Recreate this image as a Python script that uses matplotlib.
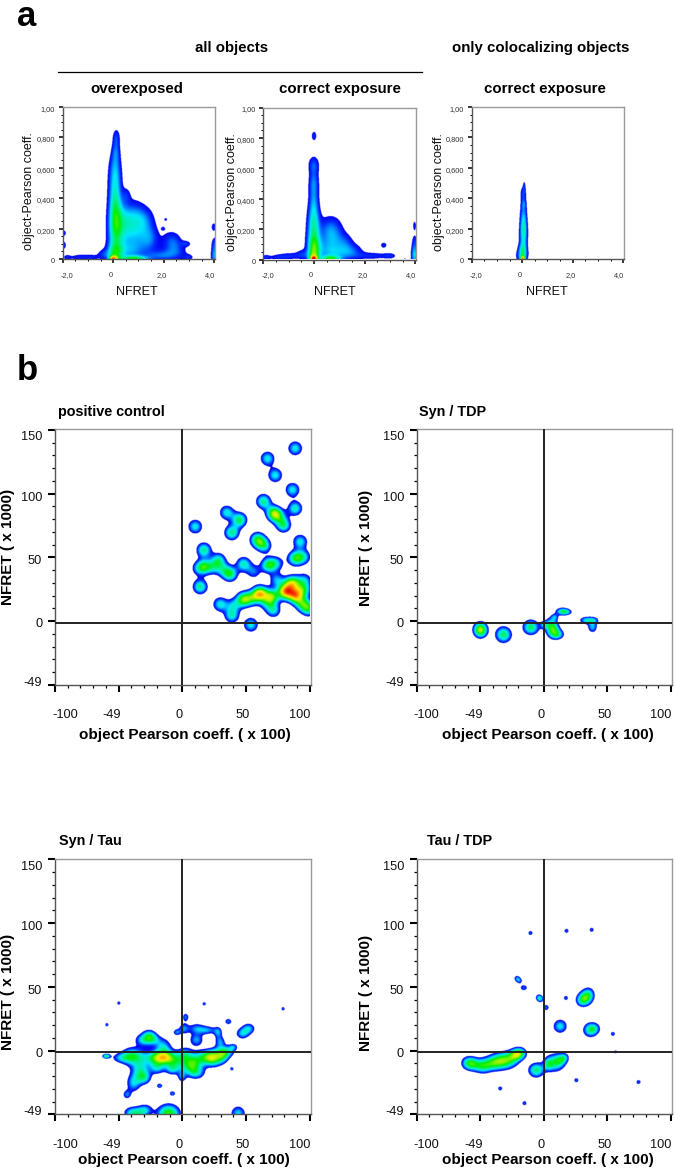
import numpy as np
import matplotlib
matplotlib.use("Agg")
import matplotlib.pyplot as plt
from matplotlib.colors import LinearSegmentedColormap
from matplotlib.transforms import ScaledTranslation
from matplotlib.ticker import MultipleLocator

plt.rcParams['font.family'] = ['Liberation Sans', 'DejaVu Sans']
W, H = 675, 1170

# ---- panel a: density components (NFRET, Pearson, spread x, spread y, weight)
A1_X  = [0.10,0.08,0.05,0.05,0.05,0.05,0.08,0.05,-0.05,0.05,0.40,0.60,0.90,1.25,1.15,0.60,1.45,2.20,2.45,2.85,2.35,2.95,-1.95,-1.95,-1.85,-1.40,-0.90,-0.40,0.80,1.80,3.95,4.0,3.98,2.05,1.95,0.50]
A1_Y  = [0.80,0.71,0.62,0.53,0.43,0.31,0.17,0.03,0.00,0.00,0.27,0.20,0.28,0.26,0.15,0.05,0.13,0.12,0.10,0.10,0.04,0.01,0.17,0.09,0.01,0.01,0.01,0.03,0.00,0.02,0.21,0.10,0.02,0.26,0.20,0.42]
A1_SX = [.09,.10,.14,.15,.15,.15,.18,.18,.08,.10,.22,.28,.22,.22,.30,.40,.20,.20,.18,.12,.35,.12,.05,.05,.10,.20,.20,.15,.30,.35,.07,.09,.08,.05,.05,.10]
A1_SY = [.035,.04,.05,.05,.06,.07,.09,.04,.012,.012,.07,.08,.06,.05,.06,.04,.05,.04,.04,.012,.03,.012,.015,.02,.012,.014,.014,.02,.012,.02,.02,.03,.035,.008,.008,.03]
A1_W  = [.16,.18,.20,.20,.26,.30,.42,.32,.55,.30,.16,.22,.15,.15,.16,.20,.13,.13,.12,.14,.14,.12,.12,.12,.12,.12,.12,.13,.50,.16,.13,.15,.28,.12,.12,.11]

A2_X  = [0.01,0.00,0.00,0.00,0.00,-0.01,0.02,0.00,-0.02,0.65,0.55,0.85,0.55,1.25,1.55,0.90,2.76,2.30,3.00,-1.9,-1.4,-0.9,-0.45,3.98,3.98,3.98,3.6]
A2_Y  = [0.81,0.62,0.51,0.39,0.27,0.13,0.05,0.00,0.00,0.00,0.20,0.17,0.08,0.10,0.05,0.03,0.09,0.02,0.02,0.01,0.01,0.02,0.03,0.22,0.10,0.02,0.00]
A2_SX = [.07,.13,.12,.12,.14,.15,.14,.08,.12,.22,.22,.22,.35,.20,.25,.40,.09,.40,.15,.10,.25,.25,.15,.05,.07,.08,.03]
A2_SY = [.022,.035,.05,.06,.06,.08,.05,.012,.03,.012,.05,.06,.05,.04,.03,.03,.014,.015,.012,.012,.014,.015,.02,.022,.04,.035,.004]
A2_W  = [.14,.18,.20,.20,.24,.40,.30,.75,.28,.48,.15,.15,.20,.14,.14,.16,.13,.14,.12,.12,.12,.12,.13,.12,.15,.30,.10]

A3_X  = [0.06,0.02,0.04,0.03,0.03,0.03,0.00,0.00,-0.03]
A3_Y  = [0.48,0.43,0.36,0.30,0.22,0.15,0.06,0.00,0.02]
A3_SX = [.03,.07,.06,.08,.08,.09,.09,.05,.13]
A3_SY = [.02,.03,.02,.05,.05,.05,.03,.012,.03]
A3_W  = [.12,.17,.14,.18,.22,.30,.30,.85,.25]

# ---- panel b: density components (Pearson x100, NFRET x1000, weight)
PC_X = [88.5,66.8,72.8,86.4,10,63.6,71.4,88.4,79.3,75,34.8,44.8,38.7,58.9,64,92.4,88.4,95,16.8,17,12.5,13.9,28.3,24,37.4,32,48,55.8,67.5,74,29.6,38.7,53.7,48,40,61,70,80.6,88.4,84.5,71.4,99,74,95,93.7,55,66,88,96]
PC_Y = [135,127,114,102.6,73.8,93.5,84.3,88,75,82,84.8,79,69,63.4,59,62,49,50,55.5,42.4,41,26.7,47.6,42,36.6,40,44.5,38.5,43.7,45,13,4,-3,16.8,12,21.5,19,22.8,20,29,8.4,9.7,32,24,13.6,18,14,30,32]
PC_W = [.35,.35,.35,.35,.35,.42,.48,.38,.42,.32,.35,.46,.43,.48,.38,.35,.45,.32,.42,.40,.22,.42,.36,.24,.44,.24,.38,.24,.46,.26,.35,.35,.35,.55,.26,.68,.52,.72,.68,.38,.34,.44,.28,.38,.38,.36,.24,.30,.26]

ST_X  = [-50.3,-50.3,-32.2,-10.7,5.2,7,10.5,-0.5,13.6,17,8,32,38,37.7]
ST_Y  = [-5.5,-8.5,-10.7,-5,-3,-8,-10.7,-3,7.5,7,3,.5,.5,-5]
ST_SX = [2.2,2.2,2.6,2.6,2,2.2,2.2,1.2,2.2,2,1.2,2,2,1.6]
ST_SY = [2.2,2.2,2.6,2.4,2.4,2.4,1.6,1.2,1.3,1,1,1.2,1.2,1.8]
ST_W  = [.36,.36,.46,.46,.36,.34,.28,.24,.30,.26,.22,.28,.28,.30]

SA_X = [-50,-59.4,17,79,38.7,36,-18,-7.9,-60.7,-59,52,47,2.5,1,-4.5,11,20,28,29.6,11,40,36,-20,-13,-15,-28,-36,-49,-42,-33,-38.5,-43.7,-4.5,-0.5,6,21.7,11,11,32,-11,-41,-29,-35,43.7,-25,25,2,30,-27,-20,-8,-30,-33,-22]
SA_Y = [37,20,36.4,32.5,-14.7,22.5,-28,-34,-4.7,-4.7,17,13,26,17,14,17,15.7,14,6.5,8,2.6,-1,-6,-6,2.6,8,-5,-6,-5,-16,-26,-35,-8,-21,-13,-5,-8,-18,-5,-50,-49.5,-47,-49.5,-49.5,11,-8,-3,-1,12,-14,-15,-22,8,8]
SA_SX = [.8,.8,.8,.8,.8,1.4,1.2,1.2,1.2,1.2,2.3,2.3,1.2,1.8,1.4,3,3,1.5,1.8,2.5,1.6,2.5,4,3,2.8,2.4,3.5,3,3,3,2.5,1.5,3.5,1.5,3,3.5,3.5,3,2,3.8,2.5,2.5,2.5,2.6,2.2,3,2.5,3,2.4,2.6,2.4,2.4,2.4,2.4]
SA_SY = [.8,.8,.8,.8,.8,1.2,1,1,.8,.8,2,2,1.5,2,1.2,2,1.5,2,2,2.2,1.2,2,2.4,2.4,3,2.4,3,1.8,3,3.2,3.2,1.6,3,2,2.8,2.4,3,2.2,2.2,3.2,2.2,2.2,2.2,2.6,2,2.5,2.5,2,2.2,2.2,2,2.2,2,2]
SA_W = [.24,.24,.24,.24,.24,.25,.25,.25,.25,.25,.29,.29,.25,.25,.24,.25,.25,.25,.26,.28,.22,.24,.52,.34,.30,.20,.30,.24,.26,.34,.30,.24,.34,.24,.33,.46,.34,.28,.26,.56,.28,.27,.28,.32,.16,.28,.24,.22,.16,.30,.28,.28,.20,.20]

TT_X = [-11,17.3,37,16.8,53.7,55.8,25,73.8,-34.8,-15.7,-21.7,-19.7,-16.2,-4.5,-3,1.3,32,29,35,12.3,35.6,39,-60,-56,-49,-43,-32,-38,-26,-19.6,-6.5,7.9,3,15.7,12,-20,-23]
TT_Y = [92,93.7,94.5,41,12.8,-1.3,-23.6,-25,-30,-41.6,56.5,54.5,49,41.5,40,33.5,41,39,44,18.8,15.7,17,-10,-11,-12.6,-11,-8.4,-9,-7,-2,-15.7,-10,-11,-5.8,-8,-3,-4]
TT_SX = [1,1,1,1,1,.8,1,1,1,1,1.1,1.1,1.5,1.2,1.2,1.2,2.4,2,2,2.4,2.4,2.2,2.4,2.4,2.6,3,3.4,3,3,2.4,2.6,3.2,1.5,1.6,2,2.2,2.2]
TT_SY = [1,1,1,1,1,.8,1,1,1,1,1.1,1.1,1.2,1.2,1.2,1.2,2.6,2,2.4,2.4,2.4,2,2.2,2.2,2.4,2.4,2.8,2.6,2.6,2,2.4,3,2,1.6,2,1.8,1.8]
TT_W = [.23,.23,.23,.23,.23,.21,.23,.23,.23,.23,.22,.22,.23,.23,.23,.24,.36,.24,.24,.34,.33,.24,.34,.28,.34,.26,.38,.26,.26,.28,.44,.38,.24,.24,.22,.20,.20]

PC_SX = [4.1] * len(PC_X)
PC_SY = [4.1] * len(PC_X)
B_SCALE = [1.0, 1.7, 1.6, 1.65]
A_THRESH = 0.08
B_THRESH = 0.15
density_cmap = LinearSegmentedColormap.from_list('dens', [
    (0.00, '#0000f0'), (0.07, '#0030ff'), (0.14, '#0090ff'), (0.21, '#00e8ff'),
    (0.32, '#00f090'), (0.43, '#00f000'), (0.58, '#a8f000'), (0.69, '#ffee00'),
    (0.84, '#ff8800'), (1.00, '#ee0000')])
density_cmap.set_under('white')


def field(xs, ys, x, y, sx, sy, w, scale=1.0):
    gx, gy = np.meshgrid(xs, ys)
    z = np.zeros_like(gx)
    for a, b, c, d, e in zip(x, y, sx, sy, w):
        z += e * np.exp(-((gx - a) ** 2 / (2 * (c * scale) ** 2) + (gy - b) ** 2 / (2 * (d * scale) ** 2)))
    return z


def make_axes(l, t, r, b):
    ax = fig.add_axes([l / W, 1 - b / H, (r - l) / W, (b - t) / H])
    for s in ax.spines.values():
        s.set_color('#9a9a9a')
        s.set_linewidth(1.0)
    for side in ('left', 'bottom'):
        ax.spines[side].set_color('#555555')
    return ax


def px(x, y, s, **kw):
    fig.text(x / W, 1 - y / H, s, va='center', **kw)


def shift(label, dx, dy, fig):
    label.set_transform(label.get_transform() + ScaledTranslation(dx / 100, dy / 100, fig.dpi_scale_trans))


fig = plt.figure(figsize=(W / 100, H / 100), dpi=100, facecolor='white')

# ---- panel a
A_BOXES = [(62.7, 107, 215, 259), (263.3, 107.5, 416, 259.5), (471.7, 107, 624, 259)]
A_DATA = [(A1_X, A1_Y, A1_SX, A1_SY, A1_W), (A2_X, A2_Y, A2_SX, A2_SY, A2_W), (A3_X, A3_Y, A3_SX, A3_SY, A3_W)]
A_XTICKS = [-2, 0, 2, 4]
A_XLABELS = ['-2,0', '0', '2,0', '4,0']
A_YTICKS = [0, .2, .4, .6, .8, 1.0]
A_YLABELS = ['0', '0,200', '0,400', '0,600', '0,800', '1,00']
for box, d in zip(A_BOXES, A_DATA):
    ax = make_axes(*box)
    xs = np.linspace(-2, 4.03, 500)
    ys = np.linspace(0, 1.0, 500)
    z = field(xs, ys, *d, scale=1.15)
    ax.imshow(z, extent=(-2, 4.03, 0, 1.0), origin='lower', aspect='auto', cmap=density_cmap,
              vmin=A_THRESH, vmax=1.3, interpolation='bilinear')
    ax.set_xlim(-2, 4.03)
    ax.set_ylim(0, 1.0)
    ax.set_xticks(A_XTICKS, A_XLABELS)
    ax.set_yticks(A_YTICKS, A_YLABELS)
    ax.xaxis.set_minor_locator(MultipleLocator(0.5))
    ax.yaxis.set_minor_locator(MultipleLocator(0.05))
    ax.tick_params(which='major', length=3.2, width=1.1, labelsize=5.3, labelcolor='#333333', pad=6)
    ax.tick_params(axis='y', which='major', pad=2.5)
    ax.tick_params(which='minor', length=1.6, width=0.7)
    for lab, dx in zip(ax.get_xticklabels(), [4.3, -2.7, -2.3, -4]):
        shift(lab, dx, 0, fig)
    for lab in ax.get_yticklabels():
        shift(lab, 0, -1.5, fig)

fig.add_artist(plt.Line2D([57.7 / W, 421.7 / W], [1 - 72 / H] * 2, color='black', lw=0.9))
TB = dict(fontweight='bold', color='black', fontsize=10.8, ha='center')
px(232, 48.3, 'all objects', **TB)
px(137.3, 88.5, 'overexposed', **TB)
px(340, 88.5, 'correct exposure', **TB)
px(540.7, 48.3, 'only colocalizing objects', **TB)
px(545, 88.5, 'correct exposure', **TB)
for x in (136.7, 335, 546.7):
    px(x, 291.7, 'NFRET', fontsize=9.1, ha='center', color='#111111')
for x, y in ((29.3, 191), (231.7, 191.7), (439.3, 192)):
    px(x, y, 'object-Pearson coeff.', fontsize=9.0, ha='center', rotation=90, color='#111111')
px(17, 16, 'a', fontsize=25, fontweight='bold', ha='left')
px(17, 371, 'b', fontsize=25, fontweight='bold', ha='left')

# ---- panel b
B_BOXES = [(55, 429.3, 311, 685), (416.7, 429.3, 672.3, 685), (55, 858.7, 311, 1114.3), (416.7, 858.7, 672.3, 1114.3)]
B_DATA = [(PC_X, PC_Y, PC_SX, PC_SY, PC_W), (ST_X, ST_Y, ST_SX, ST_SY, ST_W),
          (SA_X, SA_Y, SA_SX, SA_SY, SA_W), (TT_X, TT_Y, TT_SX, TT_SY, TT_W)]
B_TITLES = ['positive control', 'Syn / TDP', 'Syn / Tau', 'Tau / TDP']
B_TITLE_POS = [(57.7, 411.7), (419, 411.7), (59.3, 841), (426.7, 841)]
B_XL_POS = [(185, 735), (548, 735), (183.5, 1160), (547.7, 1160)]
B_YL_POS = [(8.5, 547), (365.7, 548), (8.5, 992), (365.7, 993)]
B_TICKS = [-100, -50, 0, 50, 100]
B_XLABELS = ['-100', '-49', '0', '50', '100']
B_YTICKS = [-50, 0, 50, 100, 150]
B_YLABELS = ['-49', '0', '50', '100', '150']
for i, (box, d) in enumerate(zip(B_BOXES, B_DATA)):
    ax = make_axes(*box)
    xs = np.linspace(-100, 100, 800)
    ys = np.linspace(-50, 150, 800)
    z = field(xs, ys, *d, scale=B_SCALE[i])
    ax.imshow(z, extent=(-100, 100, -50, 150), origin='lower', aspect='auto', cmap=density_cmap,
              vmin=B_THRESH, vmax=1.0, interpolation='bilinear')
    ax.axvline(0, color='#222222', lw=1.4, zorder=3)
    ax.axhline(-1.5, color='#222222', lw=1.4, zorder=3)
    ax.set_xlim(-100, 101)
    ax.set_ylim(-50, 150.5)
    ax.set_xticks(B_TICKS, B_XLABELS)
    ax.set_yticks(B_YTICKS, B_YLABELS)
    ax.xaxis.set_minor_locator(MultipleLocator(10))
    ax.yaxis.set_minor_locator(MultipleLocator(10))
    ax.tick_params(which='major', length=5, width=1.5, labelsize=9.2, labelcolor='#111111')
    ax.tick_params(axis='x', which='major', pad=12.6)
    ax.tick_params(axis='y', which='major', pad=4.2)
    ax.tick_params(which='minor', length=2.4, width=0.9)
    for lab, dx in zip(ax.get_xticklabels(), [10, -7, -3.3, -3.3, -10]):
        shift(lab, dx, 0, fig)
    for lab, dy in zip(ax.get_yticklabels(), [4, -1.7, -2.3, -2.7, -6]):
        shift(lab, 0, dy, fig)
    px(*B_TITLE_POS[i], B_TITLES[i], fontsize=10.4, fontweight='bold', ha='left')
    px(*B_XL_POS[i], 'object Pearson coeff. ( x 100)', fontsize=11.0, fontweight='bold', ha='center')
    px(*B_YL_POS[i], 'NFRET ( x 1000)', fontsize=11.0, fontweight='bold', ha='center', rotation=90)

fig.savefig('out.png', dpi=100)
